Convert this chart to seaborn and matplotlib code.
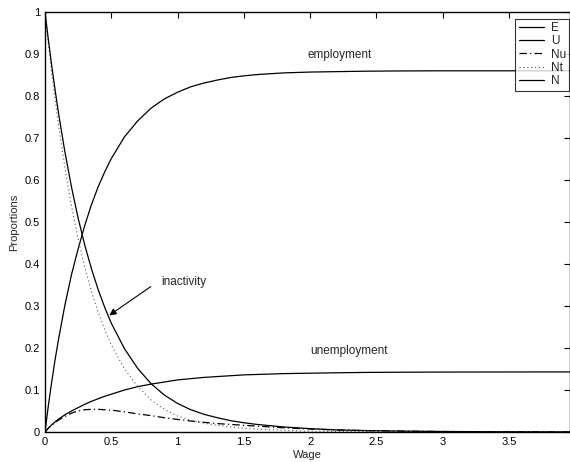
import pandas as pd
import matplotlib.pyplot as plt
import seaborn as sns

wage = [0, 0.025, 0.05, 0.075, 0.1, 0.15, 0.2, 0.25, 0.3, 0.35, 0.4, 0.45, 0.5,
        0.6, 0.7, 0.8, 0.9, 1.0, 1.1, 1.2, 1.3, 1.4, 1.5, 1.6, 1.8, 2.0, 2.2,
        2.4, 2.6, 2.8, 3.0, 3.25, 3.5, 3.75, 3.96]

employ = [0, 0.062, 0.118, 0.170, 0.217, 0.302, 0.375, 0.436, 0.492, 0.541, 0.583,
          0.619, 0.651, 0.703, 0.741, 0.771, 0.793, 0.809, 0.822, 0.831, 0.838,
          0.844, 0.848, 0.851, 0.855, 0.857, 0.858, 0.859, 0.8595, 0.8598, 0.86,
          0.86, 0.86, 0.86, 0.86]

unemploy = [0, 0.009, 0.017, 0.024, 0.030, 0.041, 0.050, 0.058, 0.066, 0.073, 0.079,
            0.085, 0.090, 0.100, 0.108, 0.114, 0.119, 0.124, 0.127, 0.130, 0.132,
            0.134, 0.136, 0.137, 0.139, 0.140, 0.141, 0.1418, 0.1422, 0.1425,
            0.1427, 0.1428, 0.1429, 0.143, 0.143]

inact_u = [0, 0.009, 0.016, 0.022, 0.028, 0.037, 0.045, 0.050, 0.053, 0.054, 0.054,
           0.053, 0.052, 0.048, 0.043, 0.039, 0.034, 0.030, 0.026, 0.023, 0.020,
           0.018, 0.016, 0.014, 0.010, 0.007, 0.005, 0.0035, 0.0025, 0.0017,
           0.0012, 0.0008, 0.0005, 0.0003, 0.0002]

inact_t = [1.0, 0.926, 0.858, 0.795, 0.735, 0.630, 0.538, 0.459, 0.392, 0.335, 0.286,
           0.244, 0.207, 0.150, 0.108, 0.076, 0.054, 0.038, 0.028, 0.021, 0.016,
           0.012, 0.009, 0.007, 0.004, 0.002, 0.0015, 0.001, 0.0007, 0.0005,
           0.0003, 0.0002, 0.0001, 0.0001, 0.0001]

inact = [1.0, 0.935, 0.874, 0.817, 0.763, 0.667, 0.583, 0.509, 0.445, 0.389, 0.340,
         0.297, 0.259, 0.198, 0.151, 0.115, 0.088, 0.068, 0.053, 0.042, 0.034,
         0.027, 0.022, 0.018, 0.012, 0.008, 0.005, 0.0035, 0.0025, 0.0018,
         0.0012, 0.0008, 0.0005, 0.0003, 0.0002]

df = pd.DataFrame({"Wage": wage, "E": employ, "U": unemploy,
                   "Nu": inact_u, "Nt": inact_t, "N": inact})

sns.set_style("white")
plt.rcParams["font.family"] = ["Liberation Sans", "DejaVu Sans"]

fig = plt.figure(figsize=(5.7, 4.62), dpi=100)
ax = fig.add_axes([45 / 570, 30 / 462, 525 / 570, 420 / 462])

styles = {"E": ("-", "black", 0.9), "U": ("-", "black", 0.9),
          "Nu": ((0, (6, 2.5, 1, 2.5)), "black", 0.9),
          "Nt": ((0, (1, 2.5)), "0.35", 0.8), "N": ("-", "black", 0.9)}
for name, (ls, col, lw) in styles.items():
    sns.lineplot(data=df, x="Wage", y=name, ax=ax, color=col,
                 linestyle=ls, linewidth=lw, label=name)

ax.set_xlim(0, 3.96)
ax.set_ylim(0, 1)
xt = [0, 0.5, 1, 1.5, 2, 2.5, 3, 3.5]
yt = [0, 0.1, 0.2, 0.3, 0.4, 0.5, 0.6, 0.7, 0.8, 0.9, 1]
ax.set_xticks(xt)
ax.set_xticklabels([f"{v:g}" for v in xt])
ax.set_yticks(yt)
ax.set_yticklabels([f"{v:g}" for v in yt])
ax.tick_params(direction="in", length=4, width=0.8, labelsize=8,
               top=True, right=True, colors="black")
for s in ax.spines.values():
    s.set_color("black")
    s.set_linewidth(1.0)

ax.set_xlabel("Wage", fontsize=8, labelpad=2)
ax.set_ylabel("Proportions", fontsize=8, labelpad=4)

ax.text(2.22, 0.898, "employment", fontsize=8.5, ha="center", va="center")
ax.text(2.29, 0.193, "unemployment", fontsize=8.5, ha="center", va="center")
ax.text(1.05, 0.357, "inactivity", fontsize=8.5, ha="center", va="center")
ax.annotate("", xy=(0.468, 0.274), xytext=(0.815, 0.35),
            arrowprops=dict(arrowstyle="-|>", color="black", lw=0.8,
                            mutation_scale=10))

leg = ax.legend(loc="upper right", bbox_to_anchor=(0.999, 0.984), fontsize=8.5,
                frameon=True, fancybox=False, handlelength=2.1,
                borderpad=0.3, labelspacing=0.1, handletextpad=0.6,
                borderaxespad=0)
leg.get_frame().set_edgecolor("black")
leg.get_frame().set_linewidth(0.8)

fig.savefig("out.png", dpi=100)
